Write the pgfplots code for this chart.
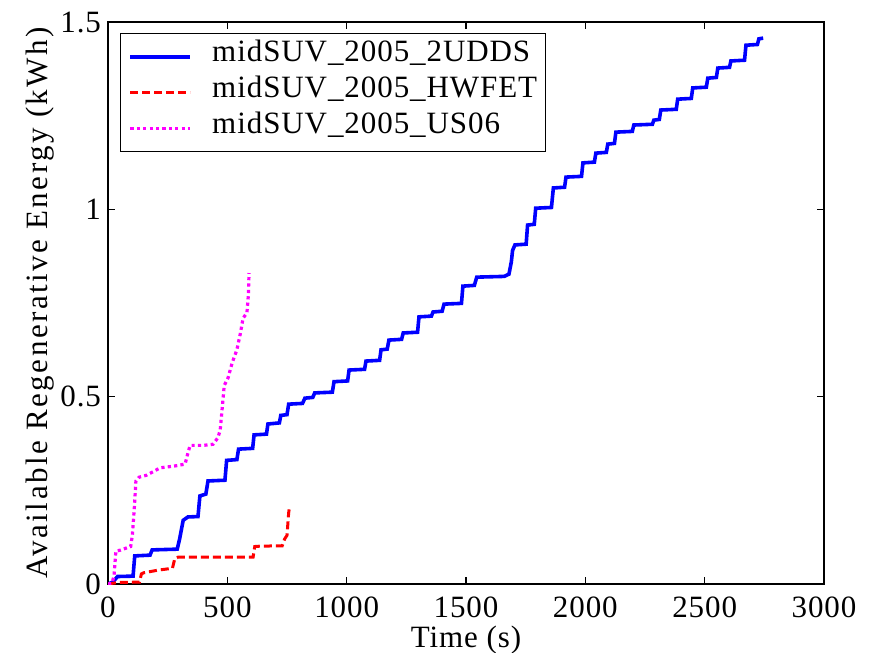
\documentclass[border=0pt]{standalone}
\usepackage{fontspec}
\setmainfont{Liberation Serif}[LetterSpace=3]
\usepackage{pgfplots}
\pgfplotsset{compat=1.18}
\definecolor{udds}{RGB}{0,0,255}
\definecolor{hwfet}{RGB}{255,0,0}
\definecolor{usix}{RGB}{255,0,255}
\newcommand{\chartfont}{\fontsize{15.5}{17}\selectfont}
\newfontfamily\widefont{Liberation Serif}[LetterSpace=8]

\begin{document}
\begin{tikzpicture}[font=\chartfont]
\begin{axis}[
    name=ax,
    scale only axis,
    width=358pt, height=281pt,
    xmin=0, xmax=3000, ymin=0, ymax=1.5,
    xtick={0,500,...,3000},
    ytick={0,0.5,1,1.5},
    yticklabels={0,0.5,1,1.5},
    scaled x ticks=false,
    /pgf/number format/assume math mode=true,
    /pgf/number format/1000 sep={},
    tick label style={font=\chartfont},
    xticklabel style={yshift=-3pt},
    tick align=inside,
    major tick length=3.5pt,
    axis line style={line width=0.6pt},
    every tick/.style={black, line width=0.6pt},
    xlabel={Time (s)},
    ylabel={\widefont Available Regenerative Energy (kWh)},
    xlabel style={font=\chartfont, yshift=3pt},
    ylabel style={font=\chartfont, yshift=-4pt},
    legend cell align=left,
    legend style={at={(0.0168,0.980)}, anchor=north west, draw=black,
        line width=0.6pt, inner xsep=4pt, inner ysep=2.5pt,
        row sep=0pt, font=\fontsize{15.5}{17}\selectfont,
        nodes={inner sep=0pt, text height=11.5pt, text depth=6.5pt}},
    legend image code/.code={\draw[#1] (4.5pt,0pt) -- (34.5pt,0pt);
        \path (44.5pt,0pt);},
]
\addplot[udds, line width=1.8pt] coordinates {
(0,0) (20,0.005) (40,0.02) (105,0.021) (112,0.075) (176,0.077) (185,0.091)
(290,0.093) (300,0.12) (315,0.17) (335,0.179) (377,0.18) (385,0.235)
(410,0.24) (419,0.275) (490,0.277) (497,0.33) (540,0.332) (547,0.36)
(606,0.362) (612,0.398) (664,0.4) (670,0.427) (718,0.43) (724,0.45)
(750,0.452) (757,0.48) (815,0.482) (825,0.496) (858,0.498) (866,0.51)
(940,0.512) (947,0.54) (1004,0.542) (1010,0.571) (1075,0.573) (1081,0.595)
(1138,0.597) (1144,0.625) (1170,0.627) (1177,0.651) (1230,0.653) (1237,0.67)
(1297,0.672) (1303,0.713) (1355,0.715) (1362,0.726) (1400,0.728) (1408,0.747)
(1481,0.749) (1487,0.795) (1535,0.797) (1545,0.819) (1660,0.821) (1680,0.827)
(1690,0.86) (1695,0.89) (1705,0.905) (1752,0.907) (1758,0.958) (1786,0.96)
(1792,1.003) (1858,1.005) (1866,1.057) (1913,1.059) (1919,1.086) (1984,1.088)
(1990,1.124) (2038,1.126) (2044,1.15) (2088,1.152) (2094,1.174) (2122,1.176)
(2128,1.206) (2197,1.208) (2203,1.225) (2281,1.227) (2287,1.238) (2310,1.24)
(2316,1.265) (2381,1.267) (2387,1.294) (2444,1.296) (2450,1.324) (2507,1.326)
(2513,1.35) (2549,1.352) (2555,1.377) (2604,1.379) (2610,1.396) (2667,1.398)
(2673,1.438) (2721,1.44) (2727,1.455) (2745,1.457)
};
\addlegendentry{midSUV\_2005\_2UDDS}
\addplot[hwfet, line width=1.5pt, dash pattern=on 4pt off 2pt] coordinates {
(0,0) (20,0.002) (40,0.004) (132,0.005) (140,0.027) (150,0.03) (210,0.037)
(270,0.042) (280,0.068) (295,0.072) (608,0.072) (615,0.1) (637,0.101)
(730,0.102) (740,0.12) (750,0.13) (757,0.19) (760,0.203)
};
\addlegendentry{midSUV\_2005\_HWFET}
\addplot[usix, line width=1.6pt, dash pattern=on 1.6pt off 1.6pt] coordinates {
(0,0) (16,0.002) (25,0.02) (33,0.088) (50,0.09) (95,0.1) (102,0.13)
(110,0.2) (117,0.275) (130,0.285) (160,0.29) (190,0.3) (218,0.31)
(280,0.315) (323,0.32) (335,0.35) (344,0.37) (400,0.37) (440,0.373)
(460,0.39) (470,0.41) (480,0.48) (487,0.53) (503,0.55) (520,0.59)
(540,0.625) (555,0.67) (566,0.71) (582,0.723) (588,0.77) (591,0.83)
};
\addlegendentry{midSUV\_2005\_US06}
\end{axis}
\pgfresetboundingbox
\path ([shift={(-54pt,-34pt)}]ax.south west) rectangle ([shift={(23pt,11pt)}]ax.north east);
\end{tikzpicture}
\end{document}
